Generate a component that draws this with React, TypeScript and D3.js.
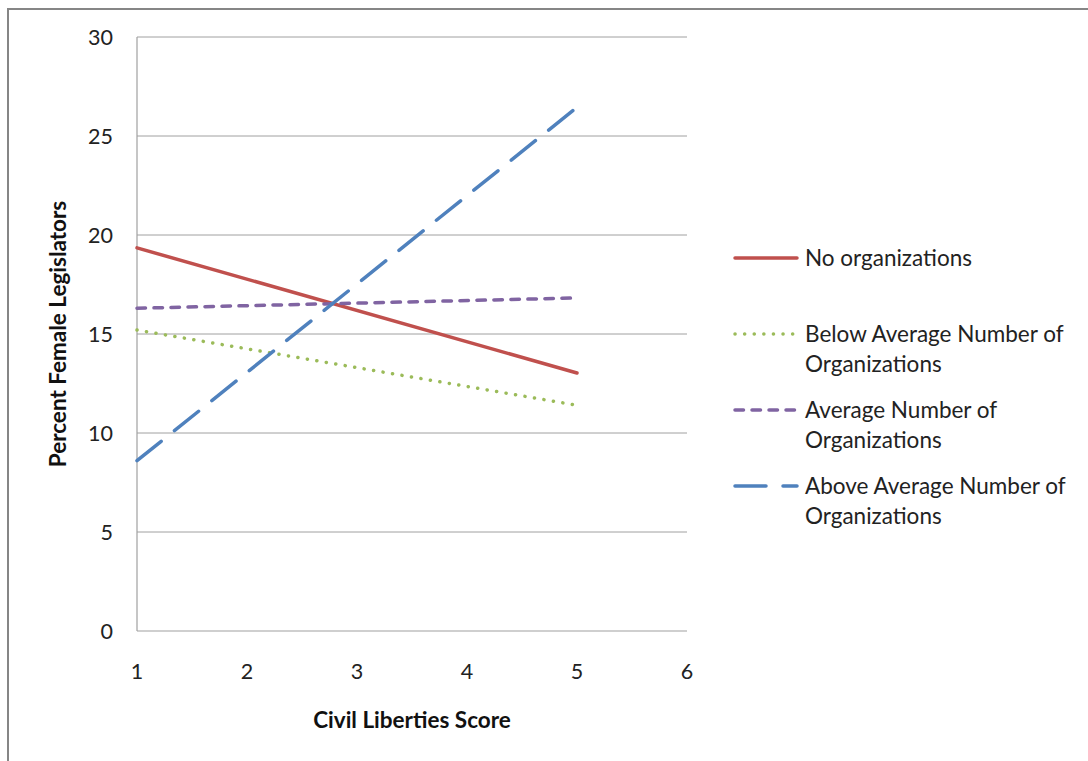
import React from "react";
import * as d3 from "d3";

const xTicks = [1, 2, 3, 4, 5, 6];
const yTicks = [0, 5, 10, 15, 20, 25, 30];
const xValues = [1, 5];
const seriesNames = [
  "No organizations",
  "Below Average Number of Organizations",
  "Average Number of Organizations",
  "Above Average Number of Organizations",
];
const noOrgs = [19.35, 13.03];
const belowAvg = [15.2, 11.4];
const avgOrgs = [16.3, 16.82];
const aboveAvg = [8.6, 26.45];

const legendLines = [
  ["No organizations"],
  ["Below Average Number of", "Organizations"],
  ["Average Number of", "Organizations"],
  ["Above Average Number of", "Organizations"],
];

const styles = [
  { color: "#C0504D", dash: "", cap: "round", width: 3.5 },
  { color: "#9BBB59", dash: "0.1 9.5", cap: "round", width: 3.5 },
  { color: "#8064A2", dash: "8.5 8.5", cap: "round", width: 3.5 },
  { color: "#4F81BD", dash: "31 17", cap: "round", width: 3.5 },
];

export default function App() {
  const W = 1088, H = 761;
  const x = d3.scaleLinear().domain([1, 6]).range([137, 687]);
  const y = d3.scaleLinear().domain([0, 30]).range([631, 37]);
  const allSeries = [noOrgs, belowAvg, avgOrgs, aboveAvg];
  const line = d3
    .line<[number, number]>()
    .x((d) => x(d[0]))
    .y((d) => y(d[1]));
  const font = "Lato, 'Open Sans', sans-serif";
  const legendY = [258, 334, 410, 486];

  return (
    <svg
      width={W}
      height={H}
      style={{ position: "absolute", left: 0, top: 0, background: "#fff" }}
      fontFamily={font}
    >
      <rect x={0} y={0} width={W} height={H} fill="#fff" />
      <rect x={8} y={9} width={1200} height={900} fill="none" stroke="#868686" strokeWidth={2} />
      {yTicks.map((t) => (
        <g key={t}>
          {t > 0 && (
            <line x1={x(1)} x2={x(6)} y1={y(t)} y2={y(t)} stroke="#A0A0A0" strokeWidth={1} />
          )}
          <text x={113} y={y(t)} dy="0.35em" textAnchor="end" fontSize={21.5} fill="#222">
            {t}
          </text>
        </g>
      ))}
      <line x1={x(1)} x2={x(1)} y1={y(30)} y2={y(0)} stroke="#A0A0A0" strokeWidth={1.2} />
      <line x1={x(1)} x2={x(6)} y1={y(0)} y2={y(0)} stroke="#A0A0A0" strokeWidth={1.2} />
      {xTicks.map((t) => (
        <text key={t} x={x(t)} y={671} dy="0.35em" textAnchor="middle" fontSize={21.5} fill="#222">
          {t}
        </text>
      ))}
      <text x={412} y={720} dy="0.35em" textAnchor="middle" fontSize={22.5} fontWeight="bold" fill="#111">
        Civil Liberties Score
      </text>
      <text
        transform={`translate(58,334) rotate(-90)`}
        dy="0.35em"
        textAnchor="middle"
        fontSize={22.5}
        fontWeight="bold"
        fill="#111"
      >
        Percent Female Legislators
      </text>
      {allSeries.map((s, i) => (
        <path
          key={seriesNames[i]}
          d={line(xValues.map((xv, j) => [xv, s[j]]) as [number, number][]) || ""}
          fill="none"
          stroke={styles[i].color}
          strokeWidth={styles[i].width}
          strokeDasharray={styles[i].dash}
          strokeLinecap={styles[i].cap as any}
        />
      ))}
      {legendLines.map((lines, i) => (
        <g key={i}>
          <line
            x1={735}
            x2={797}
            y1={legendY[i]}
            y2={legendY[i]}
            stroke={styles[i].color}
            strokeWidth={styles[i].width}
            strokeDasharray={styles[i].dash}
            strokeLinecap={styles[i].cap as any}
          />
          {lines.map((l, k) => (
            <text key={k} x={805} y={legendY[i] + k * 30} dy="0.35em" fontSize={22.5} fill="#222">
              {l}
            </text>
          ))}
        </g>
      ))}
    </svg>
  );
}
